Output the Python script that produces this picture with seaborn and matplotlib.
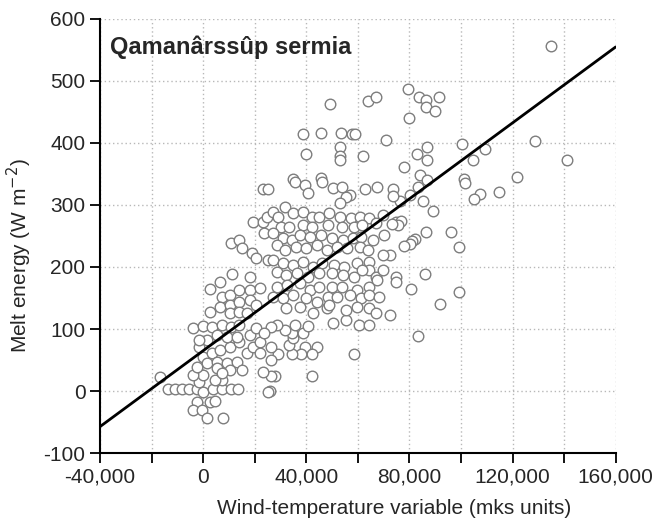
import numpy as np
import pandas as pd
import seaborn as sns
import matplotlib
matplotlib.use("Agg")
import matplotlib.pyplot as plt
from matplotlib.ticker import MultipleLocator, FuncFormatter

# wind-temperature variable (mks units) and melt energy (W m-2)
wind_temp = [
    49400, 64100, 66900, 38600, 45900, 53300, 57900, 59100, 71100, 52900, 40100, 52900, 52900, 62200, 34700, 45900,
    79300, 83900, 86600, 91300, 86600, 90100, 79700, 87000, 83100, 87000, 100600, 109500, 104500, 78100, 84300, 87000, 101000,
    135100, 128900, 141300, 121900,
    73500, 83500, 101400, 107200, 105200, 114900, 80400, 85100, 76200, 73500, 89000, 75000, 76900, 75400, 73100, 86600,
    96300, 82300, 81200, 80100, 78100, 99400, 85900, 74700, 74700, 80800, 99400, 91700, 72300,
    50200, 55600, 60300, 64200, 58700, 42100, 44000, 39400, 42100, 37900, 34300, 33500, 34700, 34300, 31600, 38600,
    35500, 40500, 28500, 26500, 28900, 26500, 26500, 27700, 26500, 25800,
    83500,
    23100, 25000, 19200, 23100, 24600, 23800, 11000, 14100, 14900, 18800, 20700, 25000, 2500, 6400, 11400, 18000,
    7200, 10300, 14100, 18000, 21900, 2500, 6400, 10300, 14100, 18000, 20700, 10300, 14100, 17200,
    -4100, 0, 3300, 7200, 11000, 14100, -16900, -13700, -11000, -8300, -5600, -2500, 0, 3700, 7200, 11000, 13400,
    -1400, 0, -4100, 7200, 4500, -2500, 2500, -4100, -600, 4500, 1400, 7600, 25000, -1400, 1700, 0, 3300, 6400,
    10300, 14100, 1400, 5200, 9100, 13000, 16900, 19200, 21900, 5200, 10300, 14900, 21900, 23100, -2500, 7200,
    -1400, 5200, 9100, 13000, 18000, 20700, 23800,
    35500, 39400, 40500, 46300, 50200, 53700, 56800, 55600, 52900, 62600, 67600,
    27100, 29000, 31600, 34700, 38600, 42100, 45100, 49000, 52900, 57500, 60700, 64500, 67200, 69600,
    30400, 33500, 38600, 42100, 48300, 53700, 58700, 61800,
    27100, 31000, 34300, 37400, 41300, 45900, 49800, 54100, 58000, 61400, 65700, 70300,
    28500, 31600, 36200, 40100, 44000, 47900, 52100, 56000, 60700, 63800, 69600,
    27100, 31000, 34700, 38600, 42500, 46300, 50900, 54800, 59500, 64500, 64500,
    28500, 32300, 36600, 40500, 45100, 49800, 54100, 58700, 61800, 67200, 69600,
    28500, 32700, 37400, 41300, 45100, 49800, 53700, 59500, 64500, 67600,
    27100, 31000, 34700, 40100, 44000, 48300, 52100, 56800, 61400, 64500, 68400,
    32300, 37400, 42500, 47900, 49000, 55600, 59500, 64500, 67200, 72300,
]
melt_energy = [
    463, 468, 474, 415, 416, 416, 415, 415, 405, 394, 382, 379, 373, 379, 342, 344,
    487, 474, 469, 474, 458, 452, 440, 394, 382, 373, 398, 390, 373, 361, 348, 340, 342,
    556, 403, 373, 345,
    326, 329, 335, 318, 310, 321, 316, 306, 306, 315, 290, 273, 274, 268, 269, 256,
    256, 245, 242, 237, 234, 232, 189, 184, 176, 165, 160, 140, 219,
    110, 115, 106, 106, 60, 24, 71, 71, 60, 60, 60, 74, 85, 94, 98, 94,
    106, 105, 106, 103, 60, 71, 50, 24, 24, 0,
    89,
    326, 326, 273, 273, 281, 255, 239, 244, 231, 223, 215, 211, 165, 176, 189, 184,
    152, 155, 163, 163, 166, 127, 135, 139, 144, 147, 139, 126, 127, 126,
    102, 105, 103, 106, 103, 106, 23, 3, 3, 3, 3, 3, -2, 3, 3, 3, 3,
    15, 26, 26, 18, 18, -18, -18, -31, -31, -16, -44, -44, -2, 71, 82, 55, 61, 66,
    71, 79, 45, 47, 45, 47, 61, 71, 79, 37, 34, 34, 61, 31, 39, 29,
    82, 90, 87, 87, 90, 102, 94,
    337, 332, 319, 337, 327, 329, 316, 313, 303, 326, 329,
    289, 281, 297, 287, 289, 281, 281, 287, 281, 279, 281, 279, 271, 284,
    265, 265, 268, 265, 268, 265, 265, 268,
    255, 247, 244, 252, 248, 252, 247, 244, 247, 248, 244, 252,
    235, 227, 232, 231, 235, 227, 232, 231, 232, 227, 219,
    211, 206, 203, 208, 200, 206, 203, 200, 206, 208, 195,
    192, 187, 190, 184, 190, 190, 187, 184, 195, 184, 195,
    168, 171, 174, 163, 168, 168, 168, 163, 168, 179,
    152, 150, 155, 150, 144, 152, 152, 155, 150, 155, 152,
    134, 135, 126, 134, 139, 131, 135, 134, 126, 123,
]

# regression line shown in the figure
fit_intercept = 65.0
fit_slope = 0.00306

x_min, x_max = -40000, 160000
y_min, y_max = -100, 600

df = pd.DataFrame({"wt": wind_temp, "melt": melt_energy})

sns.set_style("white")
plt.rcParams["font.family"] = ["Liberation Sans", "DejaVu Sans"]
plt.rcParams["axes.unicode_minus"] = False

fig = plt.figure(figsize=(6.62, 5.22), dpi=100)
ax = fig.add_axes([0.151, 0.132, 0.779, 0.832])

sns.scatterplot(data=df, x="wt", y="melt", ax=ax, s=58, facecolor="white",
                edgecolor="#7d7d7d", linewidth=1.0, zorder=3)

line_x = np.array([x_min, x_max])
sns.lineplot(x=line_x, y=fit_intercept + fit_slope * line_x, ax=ax,
             color="black", linewidth=2.0, zorder=4)

ax.set_xlim(x_min, x_max)
ax.set_ylim(y_min, y_max)
ax.xaxis.set_major_locator(MultipleLocator(40000))
ax.xaxis.set_minor_locator(MultipleLocator(20000))
ax.yaxis.set_major_locator(MultipleLocator(100))
ax.xaxis.set_major_formatter(FuncFormatter(lambda v, p: f"{v:,.0f}"))

ax.grid(True, which="both", axis="x", color="#b8b8b8", linestyle=(0, (1, 2)), linewidth=1)
ax.grid(True, which="major", axis="y", color="#b8b8b8", linestyle=(0, (1, 2)), linewidth=1)
ax.set_axisbelow(True)

for side in ["top", "right"]:
    ax.spines[side].set_visible(False)
for side in ["left", "bottom"]:
    ax.spines[side].set_color("black")
    ax.spines[side].set_linewidth(1.5)

ax.tick_params(axis="both", which="both", direction="out", length=7, width=1.3,
               color="black", labelsize=15, bottom=True, left=True)

ax.set_xlabel("Wind-temperature variable (mks units)", fontsize=15)
ax.set_ylabel("Melt energy (W m$^{-2}$)", fontsize=15)
ax.xaxis.set_label_coords(0.57, -0.105)
ax.yaxis.set_label_coords(-0.128, 0.455)

ax.text(0.02, 0.935, "Qamanârssûp sermia", transform=ax.transAxes,
        fontsize=17, fontweight="bold", va="center", ha="left")

fig.savefig("out.png", dpi=100)
